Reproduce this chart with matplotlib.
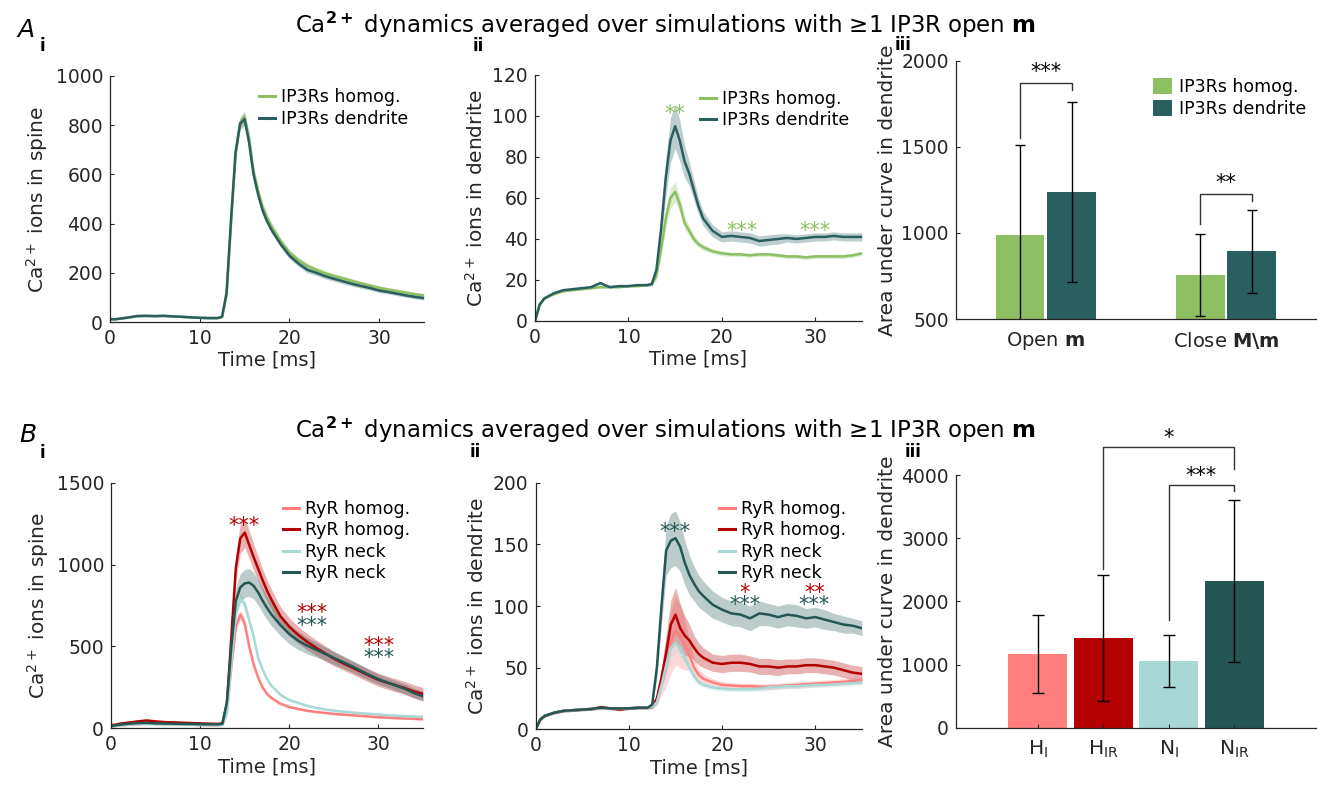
import numpy as np
import matplotlib
matplotlib.use("Agg")
import matplotlib.pyplot as plt
from matplotlib.lines import Line2D

# ---------------------------------------------------------------------------
# colours
# ---------------------------------------------------------------------------
GREEN = "#8DC063"
TEAL_A = "#2A5F60"
LRED = "#FF7F7F"
DRED = "#B40000"
LTEAL = "#A7D8D5"
DTEAL = "#245654"
AXC = "#262626"

# ---------------------------------------------------------------------------
# data
# ---------------------------------------------------------------------------
t_ms = [0, 0.5, 1, 2, 3, 4, 5, 6, 7, 8, 9, 10, 11, 12, 12.5, 13, 13.5, 14,
        14.5, 15, 15.5, 16, 16.5, 17, 17.5, 18, 19, 20, 21, 22, 23, 24, 25,
        26, 27, 28, 29, 30, 31, 32, 33, 34, 35]

# A i  - spine
a1_homog = [12, 11, 13, 18, 24, 25, 24, 25, 23, 21, 19, 17, 16, 16, 20, 110,
            400, 680, 810, 835, 750, 615, 535, 470, 425, 390, 330, 283, 252,
            228, 212, 198, 187, 177, 167, 157, 148, 139, 132, 126, 119, 113, 108]
a1_dend = [12, 11, 13, 18, 24, 25, 24, 25, 23, 21, 19, 17, 16, 16, 22, 120,
           420, 690, 805, 825, 730, 600, 520, 455, 410, 375, 318, 270, 238,
           212, 200, 186, 175, 165, 155, 146, 138, 128, 122, 115, 108, 102, 97]
a1_band = [3] * 14 + [3, 10, 20, 25, 25, 25, 22, 20, 18, 17, 16, 15, 14, 13,
                      12, 12, 11, 11, 10, 10, 10, 9, 9, 9, 8, 8, 8, 8, 8]

# A ii - dendrite
a2_homog = [0, 8, 11, 13, 14.5, 15, 15.5, 16, 16.5, 16.5, 16.5, 17, 17, 17.5,
            18, 22, 35, 50, 60, 63, 57, 48, 44, 40, 37.5, 36, 34, 33, 32.5,
            32.5, 32, 32.5, 32.5, 32, 31.5, 31.5, 31, 31.5, 31.5, 31.5, 31.5,
            32, 33]
a2_dend = [0, 8, 11, 13.5, 15, 15.5, 16, 16.5, 18.5, 16.5, 17, 17, 17.5, 17.5,
           18, 25, 45, 70, 88, 95, 88, 78, 72, 64, 56, 50, 44, 41, 41.5, 41,
           40.5, 39, 39.5, 40, 40.5, 40, 40.5, 41, 41, 41.5, 41, 41, 41]
a2_band_homog = [0.5] * 14 + [1, 2, 4, 5, 5, 5, 4, 3, 2.5, 2, 1.5, 1.5, 1.2,
                              1.2, 1, 1, 1, 1, 1, 1, 1, 1, 1, 1, 1, 1, 1, 1, 1]
a2_band_dend = [0.5] * 14 + [1, 3, 6, 9, 11, 11, 10, 8, 6, 5, 4, 3.5, 3, 2.5,
                             2.5, 2.5, 2.5, 2.5, 2.5, 2.5, 2, 2, 2, 2, 2, 2, 2,
                             2, 2]

# A iii - area under curve
a3_groups = ["Open $\\mathbf{m}$", "Close $\\mathbf{M\\backslash m}$"]
a3_homog = [988, 754]
a3_homog_err = [522, 238]
a3_dend = [1240, 893]
a3_dend_err = [523, 240]

# B i - spine
b1_hi = [15, 15, 18, 22, 25, 28, 27, 26, 25, 24, 22, 20, 20, 19, 22, 110,
         380, 620, 695, 640, 500, 390, 310, 250, 210, 185, 150, 130, 118, 107,
         100, 94, 88, 84, 80, 76, 72, 68, 65, 62, 60, 58, 55]
b1_hir = [20, 22, 28, 35, 42, 48, 42, 38, 36, 34, 32, 30, 28, 27, 30, 150,
          560, 980, 1160, 1195, 1120, 1045, 975, 905, 840, 785, 685, 620, 570,
          528, 492, 458, 425, 398, 372, 346, 320, 296, 278, 262, 245, 225, 210]
b1_ni = [12, 15, 18, 22, 25, 26, 26, 25, 24, 24, 22, 20, 19, 19, 20, 90, 400,
         700, 790, 760, 660, 560, 430, 360, 300, 260, 205, 172, 155, 138, 125,
         115, 108, 102, 97, 92, 88, 84, 80, 77, 74, 72, 70]
b1_nir = [15, 18, 22, 28, 32, 33, 30, 29, 28, 27, 26, 25, 24, 24, 28, 160,
          500, 780, 860, 885, 890, 870, 830, 780, 735, 695, 630, 575, 535, 505,
          480, 455, 430, 405, 380, 352, 325, 300, 280, 260, 240, 215, 195]
b1_band_hi = [5] * 14 + [5, 20, 30, 30, 30, 25, 20, 15, 12, 10, 10, 8, 8, 7,
                         7, 6, 6, 6, 6, 6, 6, 6, 6, 6, 6, 6, 6, 6, 6]
b1_band_hir = [8] * 14 + [8, 30, 60, 80, 90, 90, 85, 80, 75, 70, 65, 62, 58,
                          55, 52, 50, 48, 46, 44, 42, 40, 40, 40, 40, 40, 40,
                          40, 40, 40]
b1_band_ni = [5] * 14 + [5, 20, 30, 35, 35, 30, 25, 20, 15, 12, 10, 8, 8, 7,
                         7, 6, 6, 6, 6, 6, 6, 6, 6, 6, 6, 6, 6, 6, 6]
b1_band_nir = [8] * 14 + [8, 30, 60, 80, 85, 85, 85, 80, 78, 75, 72, 70, 65,
                          60, 55, 50, 45, 42, 40, 38, 36, 35, 33, 32, 30, 30,
                          30, 30, 30]

# B ii - dendrite
b2_hi = [0, 8, 11, 13.5, 15, 15.5, 16, 16.5, 17, 17, 16.5, 17, 17.5, 17.5, 18,
         22, 38, 55, 70, 80, 75, 68, 60, 50, 44, 41, 38, 36, 35.5, 35, 35, 34.5,
         34.5, 35, 35.5, 36, 36.5, 37, 37.5, 38, 38.5, 39, 39.5]
b2_hir = [0, 8, 11, 13.5, 15, 15.5, 16, 16.5, 18, 17, 16, 17, 17.5, 17.5, 18,
          25, 42, 62, 85, 93, 82, 76, 72, 66, 61, 58, 54, 53, 54, 54, 53, 51,
          51, 50, 51, 51, 52, 52, 51, 50, 48, 46, 45]
b2_ni = [0, 8, 11, 13.5, 15, 15.5, 16, 16.5, 17, 17, 17, 17, 17.5, 17.5, 18,
         22, 36, 52, 66, 70, 66, 58, 50, 43, 38, 36, 34, 33, 32.5, 32.5, 32.5,
         33, 34, 34.5, 35, 35, 35.5, 36, 36, 36.5, 37, 37.5, 38]
b2_nir = [0, 8, 11, 13.5, 15, 15.5, 16, 16.5, 17.5, 17, 17, 17, 17.5, 17.5, 20,
          50, 100, 145, 153, 155, 148, 135, 125, 118, 112, 108, 101, 97, 94,
          93, 90, 94, 93, 91, 93, 92, 90, 91, 89, 87, 85, 84, 82]
b2_band_hi = [1] * 14 + [1, 3, 10, 20, 25, 28, 25, 20, 12, 8, 5, 4, 3, 3, 2.5,
                         2.5, 2.5, 2.5, 2.5, 2.5, 2.5, 2.5, 2.5, 2.5, 2.5, 2.5,
                         2.5, 2.5, 2.5]
b2_band_hir = [1] * 14 + [1, 3, 8, 15, 20, 22, 20, 16, 13, 10, 9, 8, 7, 7, 7,
                          7, 6.5, 6.5, 6.5, 6.5, 6, 6, 6, 6, 6, 6, 6, 6, 6]
b2_band_ni = [1] * 14 + [1, 2, 5, 7, 8, 8, 7, 5, 4, 3, 2.5, 2, 2, 2, 2, 2, 2,
                         2, 2, 2, 2, 2, 2, 2, 2, 2, 2, 2, 2]
b2_band_nir = [1] * 14 + [1, 8, 15, 20, 22, 22, 20, 18, 16, 14, 13, 12, 11, 10,
                          10, 10, 10, 10, 9, 9, 9, 9, 8, 8, 8, 7, 7, 6, 6]

# B iii - area under curve
b3_labels = ["H$_\\mathrm{I}$", "H$_\\mathrm{IR}$", "N$_\\mathrm{I}$", "N$_\\mathrm{IR}$"]
b3_vals = [1166, 1419, 1055, 2326]
b3_err = [620, 1002, 407, 1285]

TITLE = "Ca$^{\\mathbf{2+}}$ dynamics averaged over simulations with \u22651 IP3R open $\\mathbf{m}$"
YL_SPINE = "Ca$^{2+}$ ions in spine"
YL_DEND = "Ca$^{2+}$ ions in dendrite"
YL_AUC = "Area under curve in dendrite"

TICK_FS = 13.5
XL_FS = 14
YL_FS = 14.5
LEG_FS = 12.5


# ---------------------------------------------------------------------------
# helpers
# ---------------------------------------------------------------------------
def style_ax(ax):
    for s in ("top", "right"):
        ax.spines[s].set_visible(False)
    for s in ("left", "bottom"):
        ax.spines[s].set_color(AXC)
        ax.spines[s].set_linewidth(0.9)
    ax.tick_params(direction="in", length=3, width=0.8, colors=AXC,
                   labelsize=TICK_FS, pad=5)


def trace(ax, y, band, color, band_alpha=0.3):
    t = np.array(t_ms)
    y = np.array(y, dtype=float)
    b = np.array(band, dtype=float)
    ax.fill_between(t, y - b, y + b, color=color, alpha=band_alpha, lw=0)
    ax.plot(t, y, color=color, lw=1.8)


def stars(ax, x, y, s, color):
    ax.text(x, y, s, ha="center", va="center", color=color, fontsize=15)


def line_legend(ax, labels, colors, anchor):
    handles = [Line2D([], [], color=c, lw=2.2) for c in colors]
    ax.legend(handles, labels, loc="upper left", bbox_to_anchor=anchor,
              frameon=False, fontsize=LEG_FS, handlelength=0.9,
              handletextpad=0.35, labelspacing=0.2, borderpad=0,
              borderaxespad=0)


def bracket(ax, x1, x2, y1, y2, ytop, label, ytxt):
    ax.plot([x1, x1, x2, x2], [y1, ytop, ytop, y2], color="#333333", lw=1.0,
            clip_on=False)
    ax.text((x1 + x2) / 2, ytxt, label, ha="center", va="center",
            fontsize=15, color="black")


def time_axes(ax, ymax, ystep, ylabel):
    ax.set_xlim(0, 35)
    ax.set_ylim(0, ymax)
    ax.set_xticks([0, 10, 20, 30])
    ax.set_yticks(np.arange(0, ymax + 1, ystep))
    ax.set_xlabel("Time [ms]", fontsize=XL_FS, color=AXC, labelpad=2)
    ax.set_ylabel(ylabel, fontsize=YL_FS, color=AXC, labelpad=4)


fig = plt.figure(figsize=(13.2, 7.9), dpi=100)
plt.rcParams["font.family"] = "DejaVu Sans"

# ---------------------------------------------------------------------------
# Row A
# ---------------------------------------------------------------------------
ax = fig.add_axes([0.0833, 0.5924, 0.2379, 0.3114])
style_ax(ax)
trace(ax, a1_homog, a1_band, GREEN)
trace(ax, a1_dend, a1_band, TEAL_A)
time_axes(ax, 1000, 200, YL_SPINE)
line_legend(ax, ["IP3Rs homog.", "IP3Rs dendrite"], [GREEN, TEAL_A], (0.475, 0.95))

ax = fig.add_axes([0.4053, 0.5937, 0.2477, 0.3114])
style_ax(ax)
trace(ax, a2_homog, a2_band_homog, GREEN)
trace(ax, a2_dend, a2_band_dend, TEAL_A)
time_axes(ax, 120, 20, YL_DEND)
line_legend(ax, ["IP3Rs homog.", "IP3Rs dendrite"], [GREEN, TEAL_A], (0.505, 0.94))
stars(ax, 15.0, 101, "**", GREEN)
stars(ax, 22.2, 44, "***", GREEN)
stars(ax, 30.0, 44, "***", GREEN)

ax = fig.add_axes([0.7240, 0.5962, 0.2730, 0.3266])
style_ax(ax)
xg = np.arange(1, len(a3_groups) + 1)
bw, off = 0.27, 0.143
ax.bar(xg - off, a3_homog, bw, color=GREEN, label="IP3Rs homog.")
ax.bar(xg + off, a3_dend, bw, color=TEAL_A, label="IP3Rs dendrite")
ax.errorbar(xg - off, a3_homog, yerr=a3_homog_err, fmt="none", ecolor="black",
            elinewidth=1.0, capsize=3.5, capthick=1.0)
ax.errorbar(xg + off, a3_dend, yerr=a3_dend_err, fmt="none", ecolor="black",
            elinewidth=1.0, capsize=3.5, capthick=1.0)
ax.set_xlim(0.5, 2.5)
ax.set_ylim(500, 2000)
ax.set_yticks([500, 1000, 1500, 2000])
ax.set_xticks(xg)
ax.set_xticklabels(a3_groups, fontsize=14)
ax.tick_params(axis="x", length=0, pad=8)
ax.set_ylabel(YL_AUC, fontsize=YL_FS, color=AXC, labelpad=3)
ax.legend(loc="upper left", bbox_to_anchor=(0.547, 0.935), frameon=False,
          fontsize=LEG_FS, handlelength=1.1, handleheight=1.0, handletextpad=0.4,
          labelspacing=0.25, borderpad=0, borderaxespad=0)
bracket(ax, 1 - off, 1 + off, 1555, 1830, 1870, "***", 1935)
bracket(ax, 2 - off, 2 + off, 1050, 1185, 1228, "**", 1290)

# ---------------------------------------------------------------------------
# Row B
# ---------------------------------------------------------------------------
ryr_labels = ["RyR homog.", "RyR homog.", "RyR neck", "RyR neck"]
ryr_colors = [LRED, DRED, LTEAL, DTEAL]

ax = fig.add_axes([0.0841, 0.0781, 0.2364, 0.3109])
style_ax(ax)
trace(ax, b1_hi, b1_band_hi, LRED)
trace(ax, b1_hir, b1_band_hir, DRED)
trace(ax, b1_ni, b1_band_ni, LTEAL)
trace(ax, b1_nir, b1_band_nir, DTEAL)
time_axes(ax, 1500, 500, YL_SPINE)
line_legend(ax, ryr_labels, ryr_colors, (0.551, 0.93))
stars(ax, 14.9, 1235, "***", DRED)
stars(ax, 22.5, 702, "***", DRED)
stars(ax, 22.5, 624, "***", DTEAL)
stars(ax, 30.1, 505, "***", DRED)
stars(ax, 30.1, 427, "***", DTEAL)

ax = fig.add_axes([0.4058, 0.0768, 0.2472, 0.3122])
style_ax(ax)
trace(ax, b2_hi, b2_band_hi, LRED)
trace(ax, b2_hir, b2_band_hir, DRED)
trace(ax, b2_ni, b2_band_ni, LTEAL)
trace(ax, b2_nir, b2_band_nir, DTEAL)
time_axes(ax, 200, 50, YL_DEND)
line_legend(ax, ryr_labels, ryr_colors, (0.563, 0.93))
stars(ax, 14.9, 160, "***", DTEAL)
stars(ax, 22.4, 110.5, "*", DRED)
stars(ax, 22.4, 101, "***", DTEAL)
stars(ax, 29.9, 110.5, "**", DRED)
stars(ax, 29.9, 101, "***", DTEAL)

ax = fig.add_axes([0.7240, 0.0789, 0.2730, 0.3198])
style_ax(ax)
xb = np.arange(1, len(b3_vals) + 1)
ax.bar(xb, b3_vals, 0.9, color=ryr_colors)
ax.errorbar(xb, b3_vals, yerr=b3_err, fmt="none", ecolor="black",
            elinewidth=1.0, capsize=4.5, capthick=1.0)
ax.set_xlim(-0.25, 5.25)
ax.set_ylim(0, 4000)
ax.set_yticks(range(0, 4001, 1000))
ax.set_xticks(xb)
ax.set_xticklabels(b3_labels, fontsize=14.5)
ax.tick_params(axis="x", pad=8)
ax.set_ylabel(YL_AUC, fontsize=YL_FS, color=AXC, labelpad=3)
bracket(ax, 2, 4, 2506, 4090, 4440, "*", 4590)
bracket(ax, 3, 4, 1705, 3750, 3850, "***", 3990)

# ---------------------------------------------------------------------------
# titles and panel letters
# ---------------------------------------------------------------------------
for ty in (0.968, 0.456):
    fig.text(0.504, ty, TITLE, ha="center", va="center", fontsize=16.5, color="black")
fig.text(0.013, 0.962, "A", fontsize=18, style="italic", va="center")
fig.text(0.015, 0.449, "B", fontsize=18, style="italic", va="center")
for x, y, s in [(0.032, 0.942, "i"), (0.362, 0.942, "ii"), (0.684, 0.943, "iii"),
                (0.032, 0.427, "i"), (0.360, 0.428, "ii"), (0.692, 0.428, "iii")]:
    fig.text(x, y, s, fontsize=12, fontweight="bold", ha="center", va="center")

fig.savefig("out.png", dpi=100)
